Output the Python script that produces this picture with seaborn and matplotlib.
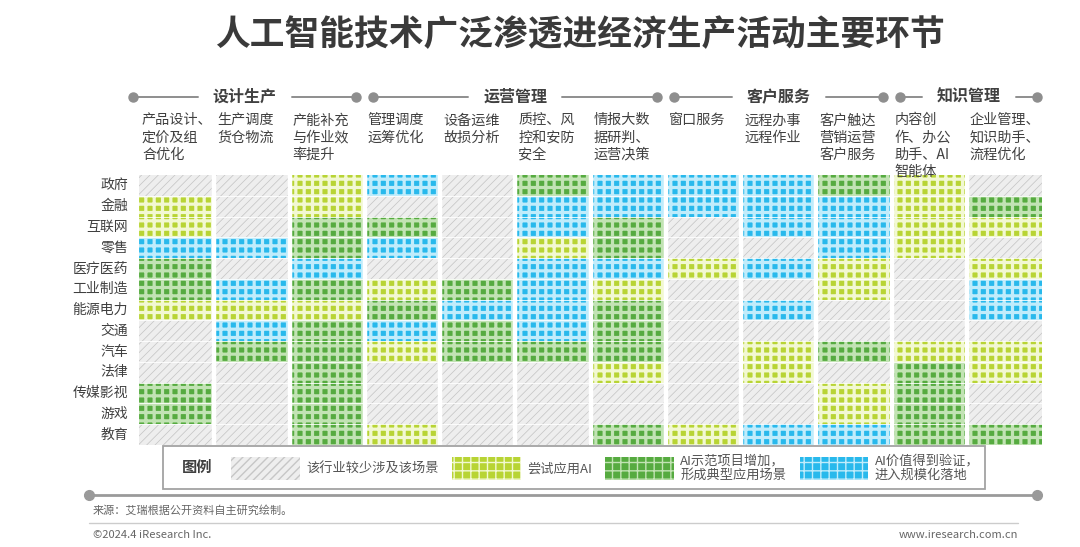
import numpy as np
import pandas as pd
import seaborn as sns
import matplotlib as mpl
mpl.use("Agg")
import matplotlib.pyplot as plt
from matplotlib.colors import ListedColormap
from matplotlib.patches import Rectangle, Patch
from matplotlib.lines import Line2D

# ---------------- data ----------------
title = "人工智能技术广泛渗透进经济生产活动主要环节"
rows = ["政府", "金融", "互联网", "零售", "医疗医药", "工业制造", "能源电力",
        "交通", "汽车", "法律", "传媒影视", "游戏", "教育"]
scenarios = ["产品设计、\n定价及组\n合优化", "生产调度\n货仓物流", "产能补充\n与作业效\n率提升",
             "管理调度\n运筹优化", "设备运维\n故损分析", "质控、风\n控和安防\n安全",
             "情报大数\n据研判、\n运营决策", "窗口服务", "远程办事\n远程作业",
             "客户触达\n营销运营\n客户服务", "内容创\n作、办公\n助手、AI\n智能体",
             "企业管理、\n知识助手、\n流程优化"]
groups = ["设计生产", "运营管理", "客户服务", "知识管理"]
group_first = [0, 3, 7, 10]
group_last = [2, 6, 9, 11]
levels = ["该行业较少涉及该场景", "尝试应用AI", "AI示范项目增加，\n形成典型应用场景",
          "AI价值得到验证，\n进入规模化落地"]

# level per industry (top -> bottom) for each scenario column
# 0 = 较少涉及, 1 = 尝试应用, 2 = 典型应用场景, 3 = 规模化落地
col_01 = [0, 1, 1, 3, 2, 2, 1, 0, 0, 0, 2, 2, 0]
col_02 = [0, 0, 0, 3, 0, 3, 1, 3, 2, 0, 0, 0, 0]
col_03 = [1, 1, 2, 2, 3, 2, 1, 2, 2, 2, 2, 2, 2]
col_04 = [3, 0, 2, 3, 0, 1, 2, 3, 1, 0, 0, 0, 1]
col_05 = [0, 0, 0, 0, 0, 2, 3, 2, 2, 0, 0, 0, 0]
col_06 = [2, 3, 3, 1, 3, 3, 3, 3, 2, 0, 0, 0, 0]
col_07 = [3, 3, 2, 2, 3, 1, 2, 2, 2, 1, 0, 0, 2]
col_08 = [3, 3, 0, 0, 1, 0, 0, 0, 0, 0, 0, 0, 1]
col_09 = [3, 3, 3, 0, 3, 0, 3, 0, 1, 1, 0, 0, 3]
col_10 = [2, 3, 3, 3, 1, 1, 0, 0, 2, 0, 1, 1, 3]
col_11 = [1, 1, 1, 1, 0, 0, 0, 0, 1, 2, 2, 2, 2]
col_12 = [0, 2, 1, 0, 1, 3, 3, 0, 1, 1, 0, 0, 2]
columns = [col_01, col_02, col_03, col_04, col_05, col_06,
           col_07, col_08, col_09, col_10, col_11, col_12]

source = "来源：艾瑞根据公开资料自主研究绘制。"
copyright_txt = "©2024.4 iResearch Inc."
website = "www.iresearch.com.cn"

# ---------------- style ----------------
sns.set_theme(style="white")
plt.rcParams["font.family"] = ["Noto Sans CJK SC", "DejaVu Sans"]
plt.rcParams["axes.unicode_minus"] = False

base_colors = ["#eeeeee", "#b8d434", "#56ab40", "#28b9ec"]
hatch_colors = ["#c6c6c6", "#f2f8d2", "#c2e3b4", "#c0ecfb"]
hatch_pats = ["////", "++", "++", "++"]
hatch_lws = [0.55, 2.3, 2.3, 2.3]
TXT = "#404040"

W, H = 1080, 547
fig = plt.figure(figsize=(W / 100, H / 100), dpi=100)
fig.patch.set_facecolor("white")

df = pd.DataFrame({s: c for s, c in zip(scenarios, columns)}, index=rows)

ax = fig.add_axes([139 / W, 1 - 445 / H, 903 / W, 270 / H])
sns.heatmap(df, ax=ax, cmap=ListedColormap(base_colors), vmin=-0.5, vmax=3.5,
            cbar=False, xticklabels=False, yticklabels=rows, linewidths=0)
ax.set_xlabel("")
ax.set_ylabel("")
ax.tick_params(axis="y", length=0, pad=8, labelsize=10, labelcolor=TXT, rotation=0)


def hatched(xy, w, h, lvl, **kw):
    with mpl.rc_context({"hatch.linewidth": hatch_lws[lvl]}):
        p = Rectangle(xy, w, h, facecolor="none", edgecolor=hatch_colors[lvl],
                      hatch=hatch_pats[lvl], linewidth=0, **kw)
    if hasattr(p, "set_hatch_linewidth"):
        p.set_hatch_linewidth(hatch_lws[lvl])
    return p


for j, col in enumerate(df.columns):
    for i, v in enumerate(df[col].values):
        ax.add_patch(hatched((j, i), 1, 1, int(v)))

for k in range(1, len(scenarios)):
    ax.axvline(k, color="white", lw=3.2, zorder=5)
for r in range(1, len(rows)):
    ax.axhline(r, color="white", lw=0.7, alpha=0.85, zorder=5)

# column headers
for j, s in enumerate(scenarios):
    ax.text(j + 0.04, -2.97, s, ha="left", va="top", fontsize=10.2,
            linespacing=1.3, color=TXT, clip_on=False)

# group headers
yg = -3.76
renderer = fig.canvas.get_renderer()
inv = ax.transData.inverted()
for g, c0, c1 in zip(groups, group_first, group_last):
    s = c0 + (0.11 if c0 > 0 else -0.08)
    e = c1 + 1 - (0.11 if c1 < len(scenarios) - 1 else 0.06)
    t = ax.text((s + e) / 2, yg, g, ha="center", va="center", fontsize=11.5,
                fontweight="bold", color=TXT, clip_on=False, zorder=7)
    bb = t.get_window_extent(renderer)
    xl = inv.transform((bb.x0, bb.y0))[0]
    xr = inv.transform((bb.x1, bb.y0))[0]
    gap = 0.2
    ax.plot([s, xl - gap], [yg, yg], color="#8e8e8e", lw=1.4, clip_on=False, zorder=6)
    ax.plot([xr + gap, e], [yg, yg], color="#8e8e8e", lw=1.4, clip_on=False, zorder=6)
    ax.plot([s, e], [yg, yg], linestyle="none", marker="o", ms=6.5,
            color="#8e8e8e", clip_on=False, zorder=6)

# title
fig.text(580 / W, 1 - 35 / H, title, ha="center", va="center", fontsize=25,
         fontweight="bold", color="#3a3a3a")

# legend
fig.add_artist(Rectangle((163 / W, 1 - 489 / H), 822 / W, 43 / H,
                         transform=fig.transFigure, fill=False,
                         edgecolor="#a2a2a2", lw=1.3))
fig.text(197 / W, 1 - 467 / H, "图例", ha="center", va="center", fontsize=11,
         fontweight="bold", color=TXT)
handles = []
for lvl in range(4):
    with mpl.rc_context({"hatch.linewidth": hatch_lws[lvl]}):
        hp = Patch(facecolor=base_colors[lvl], edgecolor=hatch_colors[lvl],
                   hatch=hatch_pats[lvl], linewidth=0)
    if hasattr(hp, "set_hatch_linewidth"):
        hp.set_hatch_linewidth(hatch_lws[lvl])
    handles.append(hp)
leg = fig.legend(handles, levels, loc="center left",
                 bbox_to_anchor=(231 / W, 1 - 468 / H), ncol=4, frameon=False,
                 handlelength=5.2, handleheight=2.3, handletextpad=0.5,
                 columnspacing=1.0, fontsize=9.5, labelcolor="#555555",
                 borderaxespad=0, borderpad=0)

# footer
fig.add_artist(Line2D([89 / W, 1037 / W], [1 - 495 / H, 1 - 495 / H],
                      transform=fig.transFigure, color="#9a9a9a", lw=2,
                      marker="o", ms=7))
fig.text(93 / W, 1 - 510 / H, source, ha="left", va="center", fontsize=8,
         color="#666666")
fig.add_artist(Line2D([89 / W, 1018 / W], [1 - 523 / H, 1 - 523 / H],
                      transform=fig.transFigure, color="#cccccc", lw=1))
fig.text(93 / W, 1 - 535 / H, copyright_txt, ha="left", va="center", fontsize=8,
         color="#666666")
fig.text(1018 / W, 1 - 535 / H, website, ha="right", va="center", fontsize=8,
         color="#666666")

fig.savefig("out.png", dpi=100, facecolor="white")
